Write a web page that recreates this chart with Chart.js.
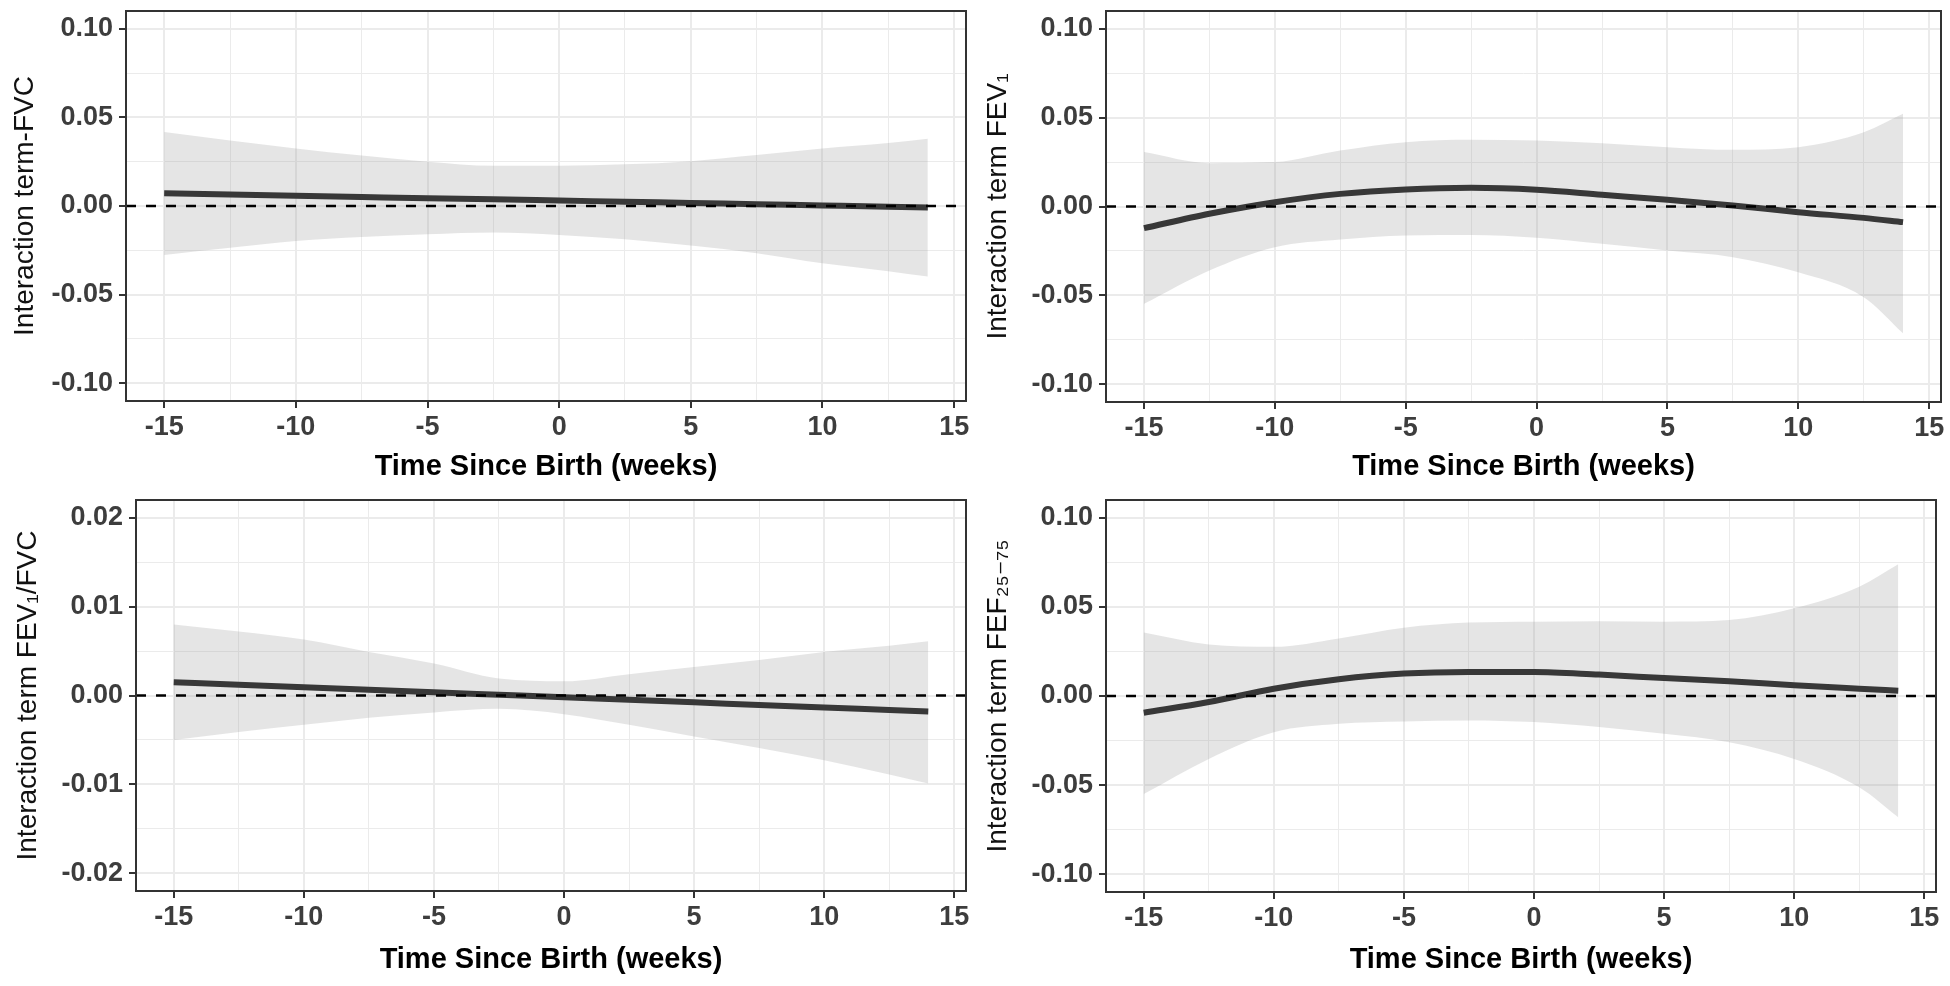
<!DOCTYPE html>
<html>
<head>
<meta charset="utf-8">
<script src="https://cdn.jsdelivr.net/npm/chart.js@4.4.1/dist/chart.umd.min.js"></script>
<style>
  html, body { margin: 0; padding: 0; background: #fff; }
  body { width: 1950px; height: 986px; position: relative; overflow: hidden; }
  .panel { position: absolute; width: 975px; height: 493px; }
</style>
</head>
<body>
<div class="panel" style="left:0;top:0"><canvas id="fvcChart"></canvas></div>
<div class="panel" style="left:975px;top:0"><canvas id="fev1Chart"></canvas></div>
<div class="panel" style="left:0;top:493px"><canvas id="ratioChart"></canvas></div>
<div class="panel" style="left:975px;top:493px"><canvas id="fefChart"></canvas></div>
<script>
// time since birth (weeks) where the smooth curves were read
const weeks = [-15, -12.5, -10, -7.5, -5, -2.5, 0, 2.5, 5, 7.5, 10, 12.5, 14];

// tick labels
const xTicks = [-15, -10, -5, 0, 5, 10, 15];
const xMinor = [-12.5, -7.5, -2.5, 2.5, 7.5, 12.5];
const yTicksWide = [-0.1, -0.05, 0, 0.05, 0.1];
const yMinorWide = [-0.075, -0.025, 0.025, 0.075];
const yTicksNarrow = [-0.02, -0.01, 0, 0.01, 0.02];
const yMinorNarrow = [-0.015, -0.005, 0.005, 0.015];

// FVC
const fvcFit   = [0.0072, 0.0065, 0.0058, 0.0051, 0.0044, 0.0038, 0.0031, 0.0024, 0.0017, 0.0010, 0.0003, -0.0004, -0.0008];
const fvcUpper = [0.0418, 0.0370, 0.0325, 0.0285, 0.0250, 0.0227, 0.0227, 0.0235, 0.0253, 0.0287, 0.0325, 0.0355, 0.0380];
const fvcLower = [-0.0276, -0.0235, -0.0197, -0.0175, -0.0160, -0.0150, -0.0163, -0.0188, -0.0223, -0.0266, -0.0323, -0.0368, -0.0398];

// FEV1
const fev1Fit   = [-0.0122, -0.0041, 0.0024, 0.0071, 0.0096, 0.0105, 0.0094, 0.0066, 0.0038, 0.0006, -0.0032, -0.0064, -0.0088];
const fev1Upper = [0.0306, 0.0244, 0.0250, 0.0315, 0.0362, 0.0375, 0.0371, 0.0356, 0.0334, 0.0319, 0.0334, 0.0418, 0.0522];
const fev1Lower = [-0.0548, -0.0360, -0.0229, -0.0186, -0.0163, -0.0160, -0.0176, -0.0210, -0.0248, -0.0285, -0.0370, -0.0510, -0.0713];

// FEV1/FVC
const ratioFit   = [0.0015, 0.00122, 0.00093, 0.00065, 0.00036, 0.00008, -0.0002, -0.00049, -0.00077, -0.00106, -0.00134, -0.00163, -0.0018];
const ratioUpper = [0.0080, 0.0072, 0.0063, 0.0049, 0.0036, 0.0019, 0.0016, 0.0024, 0.0032, 0.0040, 0.0049, 0.0056, 0.0061];
const ratioLower = [-0.0050, -0.0041, -0.0033, -0.0025, -0.0019, -0.0015, -0.0021, -0.0033, -0.0046, -0.0059, -0.0073, -0.0089, -0.0099];

// FEF25-75
const fefFit   = [-0.0094, -0.0034, 0.0041, 0.0094, 0.0126, 0.0135, 0.0135, 0.0120, 0.0101, 0.0083, 0.0060, 0.0041, 0.0030];
const fefUpper = [0.0356, 0.0289, 0.0276, 0.0323, 0.0383, 0.0412, 0.0417, 0.0420, 0.0417, 0.0426, 0.0492, 0.0613, 0.0739];
const fefLower = [-0.0550, -0.0353, -0.0203, -0.0156, -0.0143, -0.0137, -0.0146, -0.0174, -0.0212, -0.0259, -0.0353, -0.0512, -0.0681];

const X_MIN = -16.45, X_MAX = 15.45;
const FONT = "'Liberation Sans', Arial, 'DejaVu Sans', sans-serif";

const pts = (ys) => weeks.map((x, i) => ({ x: x, y: ys[i] }));
const inList = (list, v) => list.some(t => Math.abs(t - v) < 1e-9);

// ggplot-like panel border
const borderBox = {
  id: 'borderBox',
  afterDatasetsDraw(chart) {
    const a = chart.chartArea, c = chart.ctx;
    c.save();
    c.strokeStyle = '#333';
    c.lineWidth = 2;
    c.strokeRect(a.left, a.top, a.right - a.left, a.bottom - a.top);
    c.restore();
  }
};

function makePanel(id, p) {
  const ctx = document.getElementById(id).getContext('2d');
  new Chart(ctx, {
    type: 'line',
    data: {
      datasets: [
        { data: [{ x: X_MIN, y: 0 }, { x: X_MAX, y: 0 }], borderColor: '#000', borderWidth: 2.5,
          borderDash: [10, 10], pointRadius: 0, fill: false },
        { data: pts(p.fit), borderColor: '#383838', borderWidth: 6, pointRadius: 0,
          cubicInterpolationMode: 'monotone', fill: false },
        { data: pts(p.upper), borderWidth: 0, borderColor: 'rgba(0,0,0,0)', pointRadius: 0,
          cubicInterpolationMode: 'monotone', fill: '+1', backgroundColor: 'rgba(153,153,153,0.25)' },
        { data: pts(p.lower), borderWidth: 0, borderColor: 'rgba(0,0,0,0)', pointRadius: 0,
          cubicInterpolationMode: 'monotone', fill: false }
      ]
    },
    options: {
      responsive: true,
      maintainAspectRatio: false,
      animation: false,
      events: [],
      layout: { padding: { top: p.padTop, right: p.padRight, left: 0, bottom: 0 } },
      plugins: { legend: { display: false }, tooltip: { enabled: false } },
      scales: {
        x: {
          type: 'linear', min: X_MIN, max: X_MAX, bounds: 'data',
          afterBuildTicks: s => { s.ticks = xTicks.concat(xMinor).sort((a, b) => a - b).map(v => ({ value: v })); },
          afterFit: s => { s.height = p.xHeight; s.paddingLeft = 0; s.paddingRight = 0; },
          border: { display: false },
          grid: {
            color: '#ebebeb',
            lineWidth: c => (c.tick && inList(xTicks, c.tick.value)) ? 2 : 1,
            tickColor: c => (c.tick && inList(xTicks, c.tick.value)) ? '#333' : 'rgba(0,0,0,0)',
            tickLength: 7, tickWidth: 2
          },
          ticks: {
            autoSkip: false, maxRotation: 0, padding: 3, color: '#3d3d3d',
            font: { family: FONT, size: 27, weight: 'bold' },
            callback: v => inList(xTicks, v) ? String(v) : ''
          },
          title: {
            display: true, text: 'Time Since Birth (weeks)', color: '#000',
            font: { family: FONT, size: 29, weight: 'bold' }, padding: { top: 0, bottom: 9 }
          }
        },
        y: {
          type: 'linear', min: p.yMin, max: p.yMax, bounds: 'data',
          afterBuildTicks: s => { s.ticks = p.yMajor.concat(p.yMinor).sort((a, b) => a - b).map(v => ({ value: v })); },
          afterFit: s => { s.width = p.yWidth; s.paddingTop = 0; s.paddingBottom = 0; },
          border: { display: false },
          grid: {
            color: '#ebebeb',
            lineWidth: c => (c.tick && inList(p.yMajor, c.tick.value)) ? 2 : 1,
            tickColor: c => (c.tick && inList(p.yMajor, c.tick.value)) ? '#333' : 'rgba(0,0,0,0)',
            tickLength: 7, tickWidth: 2
          },
          ticks: {
            autoSkip: false, padding: 6, color: '#3d3d3d',
            font: { family: FONT, size: 27, weight: 'bold' },
            callback: v => inList(p.yMajor, v) ? v.toFixed(2) : ''
          },
          title: {
            display: true, text: p.title, color: '#111',
            font: { family: FONT, size: 28, weight: 'normal' }, padding: { top: p.titlePad, bottom: 0 }
          }
        }
      }
    },
    plugins: [borderBox]
  });
}

makePanel('fvcChart', {
  title: 'Interaction term-FVC', fit: fvcFit, upper: fvcUpper, lower: fvcLower,
  yMin: -0.11, yMax: 0.11, yMajor: yTicksWide, yMinor: yMinorWide,
  yWidth: 126, xHeight: 92, padTop: 11, padRight: 9, titlePad: 8
});
makePanel('fev1Chart', {
  title: 'Interaction term FEV\u2081', fit: fev1Fit, upper: fev1Upper, lower: fev1Lower,
  yMin: -0.11, yMax: 0.11, yMajor: yTicksWide, yMinor: yMinorWide,
  yWidth: 131, xHeight: 91, padTop: 11, padRight: 9, titlePad: 6
});
makePanel('ratioChart', {
  title: 'Interaction term FEV\u2081/FVC', fit: ratioFit, upper: ratioUpper, lower: ratioLower,
  yMin: -0.022, yMax: 0.022, yMajor: yTicksNarrow, yMinor: yMinorNarrow,
  yWidth: 136, xHeight: 95, padTop: 7, padRight: 9, titlePad: 11
});
makePanel('fefChart', {
  title: 'Interaction term FEF\u2082\u2085\u208B\u2087\u2085', fit: fefFit, upper: fefUpper, lower: fefLower,
  yMin: -0.11, yMax: 0.11, yMajor: yTicksWide, yMinor: yMinorWide,
  yWidth: 131, xHeight: 94, padTop: 7, padRight: 14, titlePad: 6
});
</script>
</body>
</html>
